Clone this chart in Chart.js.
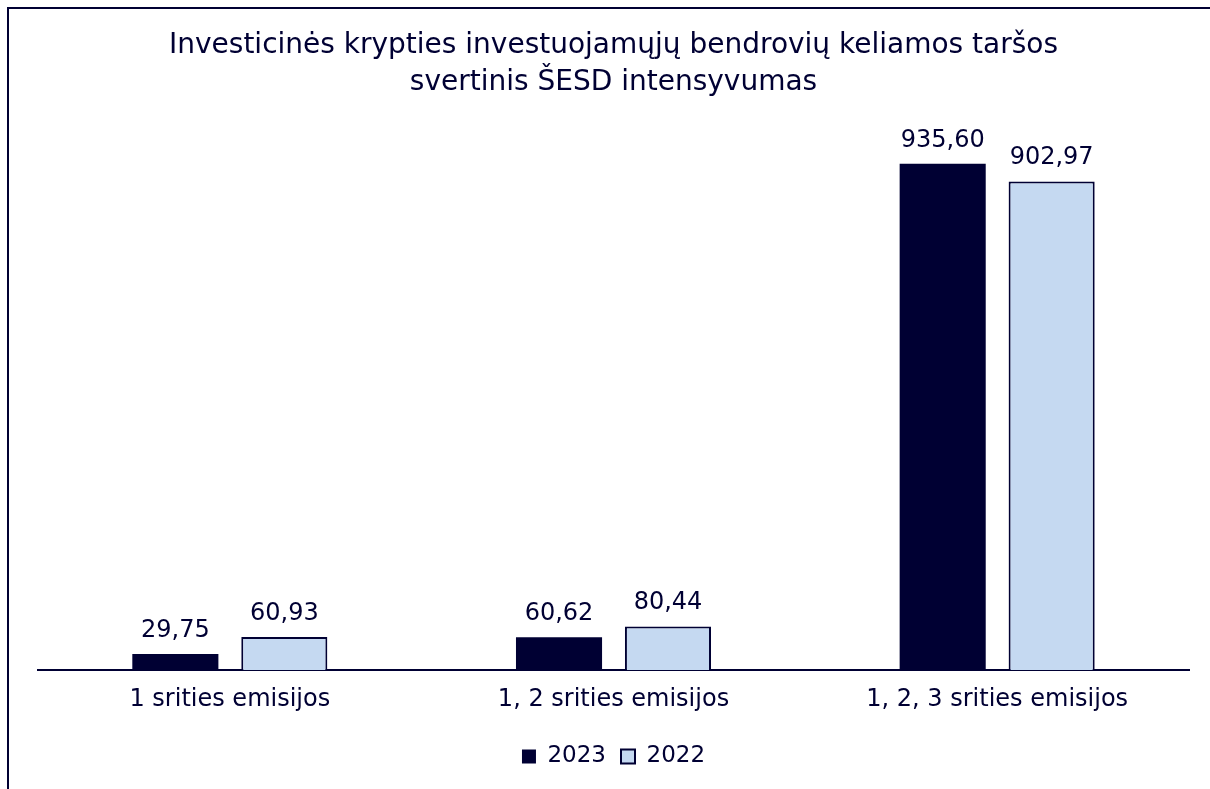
<!DOCTYPE html>
<html>
<head>
<meta charset="utf-8">
<script src="https://cdn.jsdelivr.net/npm/chart.js@4.4.1/dist/chart.umd.min.js"></script>
<style>
  html, body { margin: 0; padding: 0; background: #ffffff; }
  #wrap { position: relative; width: 1210px; height: 789px; overflow: hidden; }
  #frame { position: absolute; left: 7px; top: 7px; width: 1300px; height: 900px;
           border-top: 2px solid #000033; border-left: 2px solid #000033; }
  canvas { position: absolute; left: 0; top: 0; }
</style>
</head>
<body>
<div id="wrap">
  <div id="frame"></div>
  <canvas id="c" width="1210" height="789"></canvas>
</div>
<script>
const categories = ["1 srities emisijos", "1, 2 srities emisijos", "1, 2, 3 srities emisijos"];
const series2023 = [29.75, 60.62, 935.60];
const series2022 = [60.93, 80.44, 902.97];
const seriesNames = ["2023", "2022"];
const titleLines = ["Investicinės krypties investuojamųjų bendrovių keliamos taršos", "svertinis ŠESD intensyvumas"];

const NAVY = "#000033";
const LIGHT = "#C5D9F1";
const FONT = "Verdana, 'DejaVu Sans', sans-serif";

const valueLabels = {
  id: "valueLabels",
  afterDatasetsDraw(chart) {
    const ctx = chart.ctx;
    ctx.save();
    ctx.font = "24px " + FONT;
    ctx.fillStyle = NAVY;
    ctx.textAlign = "center";
    ctx.textBaseline = "alphabetic";
    chart.data.datasets.forEach((ds, di) => {
      const meta = chart.getDatasetMeta(di);
      meta.data.forEach((bar, i) => {
        const txt = ds.data[i].toFixed(2).replace(".", ",");
        ctx.fillText(txt, bar.x, bar.y - 17);
      });
    });
    ctx.restore();
  }
};

new Chart(document.getElementById("c"), {
  type: "bar",
  data: {
    labels: categories,
    datasets: [
      { label: seriesNames[0], data: series2023, backgroundColor: NAVY, borderColor: NAVY, borderWidth: 0 },
      { label: seriesNames[1], data: series2022, backgroundColor: LIGHT, borderColor: NAVY, borderWidth: 2 }
    ]
  },
  options: {
    responsive: false,
    animation: false,
    devicePixelRatio: 1,
    categoryPercentage: 0.568,
    barPercentage: 0.79,
    layout: { padding: { left: 38, right: 21, top: 0, bottom: 11 } },
    plugins: {
      title: {
        display: true,
        text: titleLines,
        color: NAVY,
        font: { family: FONT, size: 28, weight: "normal", lineHeight: 1.32 },
        padding: { top: 27, bottom: 28 }
      },
      legend: {
        display: true,
        position: "bottom",
        labels: {
          color: NAVY,
          font: { family: FONT, size: 23 },
          boxWidth: 14,
          boxHeight: 14,
          padding: 15
        }
      },
      tooltip: { enabled: false }
    },
    scales: {
      x: {
        grid: { display: false, drawTicks: false },
        border: { display: true, color: NAVY, width: 2 },
        ticks: { color: NAVY, font: { family: FONT, size: 24, lineHeight: 1.0 }, padding: 18 }
      },
      y: {
        display: false,
        min: 0,
        max: 1000
      }
    }
  },
  plugins: [valueLabels]
});
</script>
</body>
</html>
